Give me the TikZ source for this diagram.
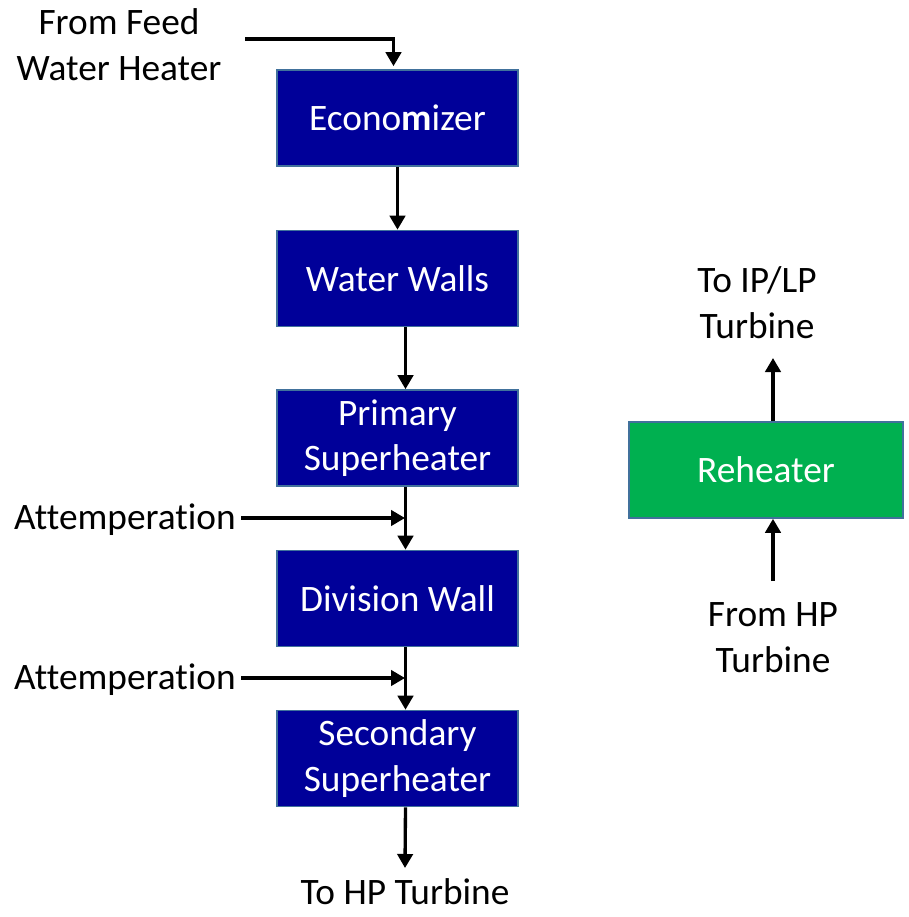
\documentclass[tikz,border=0pt]{standalone}
\usepackage{fontspec}
\setmainfont{Carlito}[Ligatures=NoCommon]
\usetikzlibrary{arrows.meta}
\definecolor{boxblue}{RGB}{0,0,153}
\definecolor{boxgreen}{RGB}{0,176,80}
\definecolor{edgeblue}{RGB}{65,113,156}
\begin{document}
\begin{tikzpicture}[x=0.75pt,y=-0.75pt,
  blk/.style={draw=edgeblue, line width=1.2pt, fill=boxblue, text=white,
    minimum width=180.75pt, minimum height=72pt, align=center,
    font=\fontsize{28}{34}\selectfont, inner sep=0pt},
  lbl/.style={align=center, font=\fontsize{28}{34.5}\selectfont, inner sep=0pt},
  flow/.style={line width=2.5pt, -{Triangle[width=11.5pt,length=10.5pt]}}]
\useasboundingbox (0,0) rectangle (909,917);

% boiler water/steam path
\node[blk] (econ) at (397.5,118) {Econo\textbf{m}izer};
\node[blk] (walls) at (397.5,278.5) {Water Walls};
\node[blk] (psh) at (397.5,438) {Primary\\Superheater};
\node[blk] (div) at (397.5,598.5) {Division Wall};
\node[blk] (ssh) at (397.5,758.5) {Secondary\\Superheater};

% reheat path
\node[blk, fill=boxgreen, minimum width=205.5pt] (rh) at (766,470) {Reheater};

% labels
\node[lbl] (feed) at (119,45) {From Feed\\Water Heater};
\node[lbl, anchor=east] (att1) at (236,520) {Attemperation};
\node[lbl, anchor=east] (att2) at (236,680) {Attemperation};
\node[lbl] (tohp) at (405,892) {To HP Turbine};
\node[lbl] (toip) at (757,303) {To IP/LP\\Turbine};
\node[lbl] (fromhp) at (773,638) {From HP\\Turbine};

% free ends of connectors
\coordinate (feedin) at (245,39);
\coordinate (j1) at (405,518);
\coordinate (j2) at (405,678);
\coordinate (hpout) at (405,868);
\coordinate (ipout) at (773,358);
\coordinate (hpin) at (773,581);

% connectors
\draw[flow, shorten >=2.25pt] (feedin) -| ([xshift=-3pt]econ.north);
\draw[flow] (econ.south) -- (walls.north);
\draw[flow] ([xshift=6pt]walls.south) -- ([xshift=6pt]psh.north);
\draw[flow] ([xshift=6pt]psh.south) -- ([xshift=6pt]div.north);
\draw[flow] ([xshift=6pt]div.south) -- ([xshift=6pt]ssh.north);
\draw[flow] ([xshift=6pt]ssh.south) -- (hpout);
\draw[flow] ([xshift=4pt]att1.east |- j1) -- (j1);
\draw[flow] ([xshift=4pt]att2.east |- j2) -- (j2);
\draw[flow] ([xshift=5.25pt]rh.north) -- (ipout);
\draw[flow] (hpin) -- ([xshift=5.25pt]rh.south);
\end{tikzpicture}
\end{document}
